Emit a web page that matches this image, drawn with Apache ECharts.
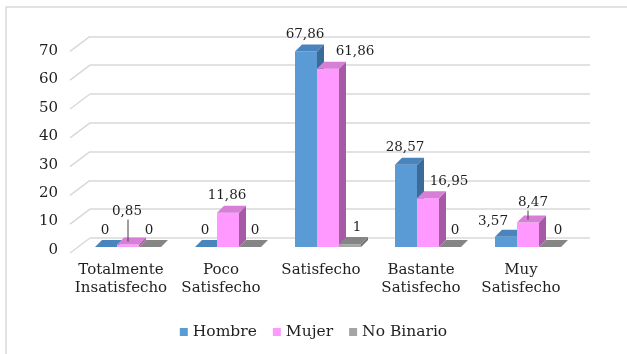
<!DOCTYPE html>
<html>
<head>
<meta charset="utf-8">
<script src="https://cdn.jsdelivr.net/npm/echarts@6/dist/echarts.min.js"></script>
<style>html,body{margin:0;padding:0;background:#fff}#c{width:627px;height:354px}</style>
</head>
<body>
<div id="c"></div>
<script>
// ---- data ----
const categories = ['Totalmente\nInsatisfecho', 'Poco\nSatisfecho', 'Satisfecho', 'Bastante\nSatisfecho', 'Muy\nSatisfecho'];
const seriesNames = ['Hombre', 'Mujer', 'No Binario'];
const hombre = [0, 0, 67.86, 28.57, 3.57];
const mujer = [0.85, 11.86, 61.86, 16.95, 8.47];
const noBinario = [0, 0, 1, 0, 0];
const yTicks = [0, 10, 20, 30, 40, 50, 60, 70];

// ---- styling ----
const FONT = 'DejaVu Serif';
const TEXT = '#1f1f1f';
const palette = [
  { front: '#5B9BD5', top: '#4A84BC', side: '#3B6C98' },
  { front: '#FF99FF', top: '#D77ED7', side: '#A65AA6' },
  { front: '#A5A5A5', top: '#858585', side: '#6F6F6F' }
];
const DX = 7, DY = 7;
const labelNudge = [
  [[0, 0], [0, 0], [0, 0], [0, 0], [-12, 2]],
  [[0, -16], [0, 0], [28, 0], [22, 0], [6, -3]],
  [[0, 0], [6, 0], [8, 0], [6, 0], [9, 0]]
];
const leaderLine = [
  [false, false, false, false, false],
  [true, false, false, false, true],
  [false, false, false, false, false]
];
const allValues = [hombre, mujer, noBinario];

function fmt(v) { return String(v).replace('.', ','); }

function geom(sIdx, params, api) {
  const cat = api.value(0), v = api.value(1);
  const p = api.coord([cat, v]);
  const b = api.coord([cat, 0]);
  const band = api.size([1, 0])[0];
  const bw = band * 0.22;
  const x = p[0] + (sIdx - 1.5) * bw;
  return { cat, v, x, top: p[1], base: b[1], bw };
}

function barRender(sIdx) {
  const c = palette[sIdx];
  return function (params, api) {
    const g = geom(sIdx, params, api);
    const { x, top, base, bw } = g;
    const children = [];
    if (base - top > 0.01) {
      children.push({ type: 'rect', shape: { x: x, y: top, width: bw, height: base - top }, style: { fill: c.front } });
      children.push({ type: 'polygon', shape: { points: [[x + bw, top], [x + bw + DX, top - DY], [x + bw + DX, base - DY], [x + bw, base]] }, style: { fill: c.side } });
    }
    children.push({ type: 'polygon', shape: { points: [[x, top], [x + DX, top - DY], [x + bw + DX, top - DY], [x + bw, top]] }, style: { fill: c.top } });
    return { type: 'group', children: children };
  };
}

function labelRender(sIdx) {
  return function (params, api) {
    const g = geom(sIdx, params, api);
    const i = params.dataIndex;
    const n = labelNudge[sIdx][i];
    const lx = g.x + g.bw / 2 - 1 + n[0];
    const ly = g.top - 17 + n[1];
    const children = [{
      type: 'text',
      style: { text: fmt(g.v), x: lx, y: ly, align: 'center', verticalAlign: 'middle', fill: TEXT, font: '13.5px "' + FONT + '"' }
    }];
    if (leaderLine[sIdx][i]) {
      const cx = g.x + g.bw / 2;
      children.push({ type: 'line', shape: { x1: cx, y1: ly + 8, x2: cx, y2: g.top - 3 }, style: { stroke: '#404040', lineWidth: 1 } });
    }
    return { type: 'group', children: children };
  };
}

const series = [];
allValues.forEach((vals, s) => {
  series.push({
    name: seriesNames[s], type: 'custom', xAxisIndex: 0, yAxisIndex: 0, z: 2,
    itemStyle: { color: palette[s].front },
    renderItem: barRender(s),
    data: vals.map((v, i) => [i, v])
  });
});
allValues.forEach((vals, s) => {
  series.push({
    type: 'custom', xAxisIndex: 0, yAxisIndex: 0, z: 5, silent: true,
    renderItem: labelRender(s),
    data: vals.map((v, i) => [i, v])
  });
});
// slanted side lines from back wall to front
series.push({
  type: 'custom', xAxisIndex: 1, yAxisIndex: 1, z: 1, silent: true,
  renderItem: function (params, api) {
    const p = api.coord([0, api.value(1)]);
    const band = api.size([1, 0])[0];
    const x0 = p[0] - band / 2;
    return { type: 'line', shape: { x1: x0, y1: p[1], x2: x0 - 20, y2: p[1] + 15 }, style: { stroke: '#D9D9D9', lineWidth: 1.5 } };
  },
  data: yTicks.map(v => [0, v])
});

const chart = echarts.init(document.getElementById('c'));
chart.setOption({
  backgroundColor: '#fff',
  animation: false,
  graphic: [{
    type: 'polyline', z: 0,
    shape: { points: [[6, 354], [6, 7], [627, 7]] },
    style: { stroke: '#D9D9D9', lineWidth: 1.5, fill: null }
  }],
  grid: [
    { left: 78, width: 500, top: 45.4, height: 201.6 },
    { left: 90, width: 500, top: 36.4, height: 201.6 },
    { left: 71, width: 500, top: 51, height: 199 }
  ],
  xAxis: [
    { type: 'category', gridIndex: 0, data: categories, show: false },
    { type: 'category', gridIndex: 1, data: categories, show: false },
    {
      type: 'category', gridIndex: 2, data: categories,
      axisLine: { show: false }, axisTick: { show: false },
      axisLabel: { color: TEXT, fontFamily: FONT, fontSize: 15, lineHeight: 18, margin: 11, interval: 0 }
    }
  ],
  yAxis: [
    { type: 'value', gridIndex: 0, min: 0, max: 70, interval: 10, show: false },
    {
      type: 'value', gridIndex: 1, min: 0, max: 70, interval: 10,
      axisLine: { show: false }, axisTick: { show: false }, axisLabel: { show: false },
      splitLine: { show: true, lineStyle: { color: '#D9D9D9', width: 1.5 } }
    },
    {
      type: 'value', gridIndex: 2, min: 0, max: 70, interval: 10,
      axisLine: { show: false }, axisTick: { show: false }, splitLine: { show: false },
      axisLabel: { color: TEXT, fontFamily: FONT, fontSize: 15, margin: 13 }
    }
  ],
  legend: {
    data: seriesNames.map((n, s) => ({ name: n, icon: 'rect', itemStyle: { color: palette[s].front } })),
    left: 'center', top: 319, itemWidth: 8, itemHeight: 8, itemGap: 16,
    textStyle: { color: TEXT, fontFamily: FONT, fontSize: 15.5 }
  },
  series: series
});
</script>
</body>
</html>
